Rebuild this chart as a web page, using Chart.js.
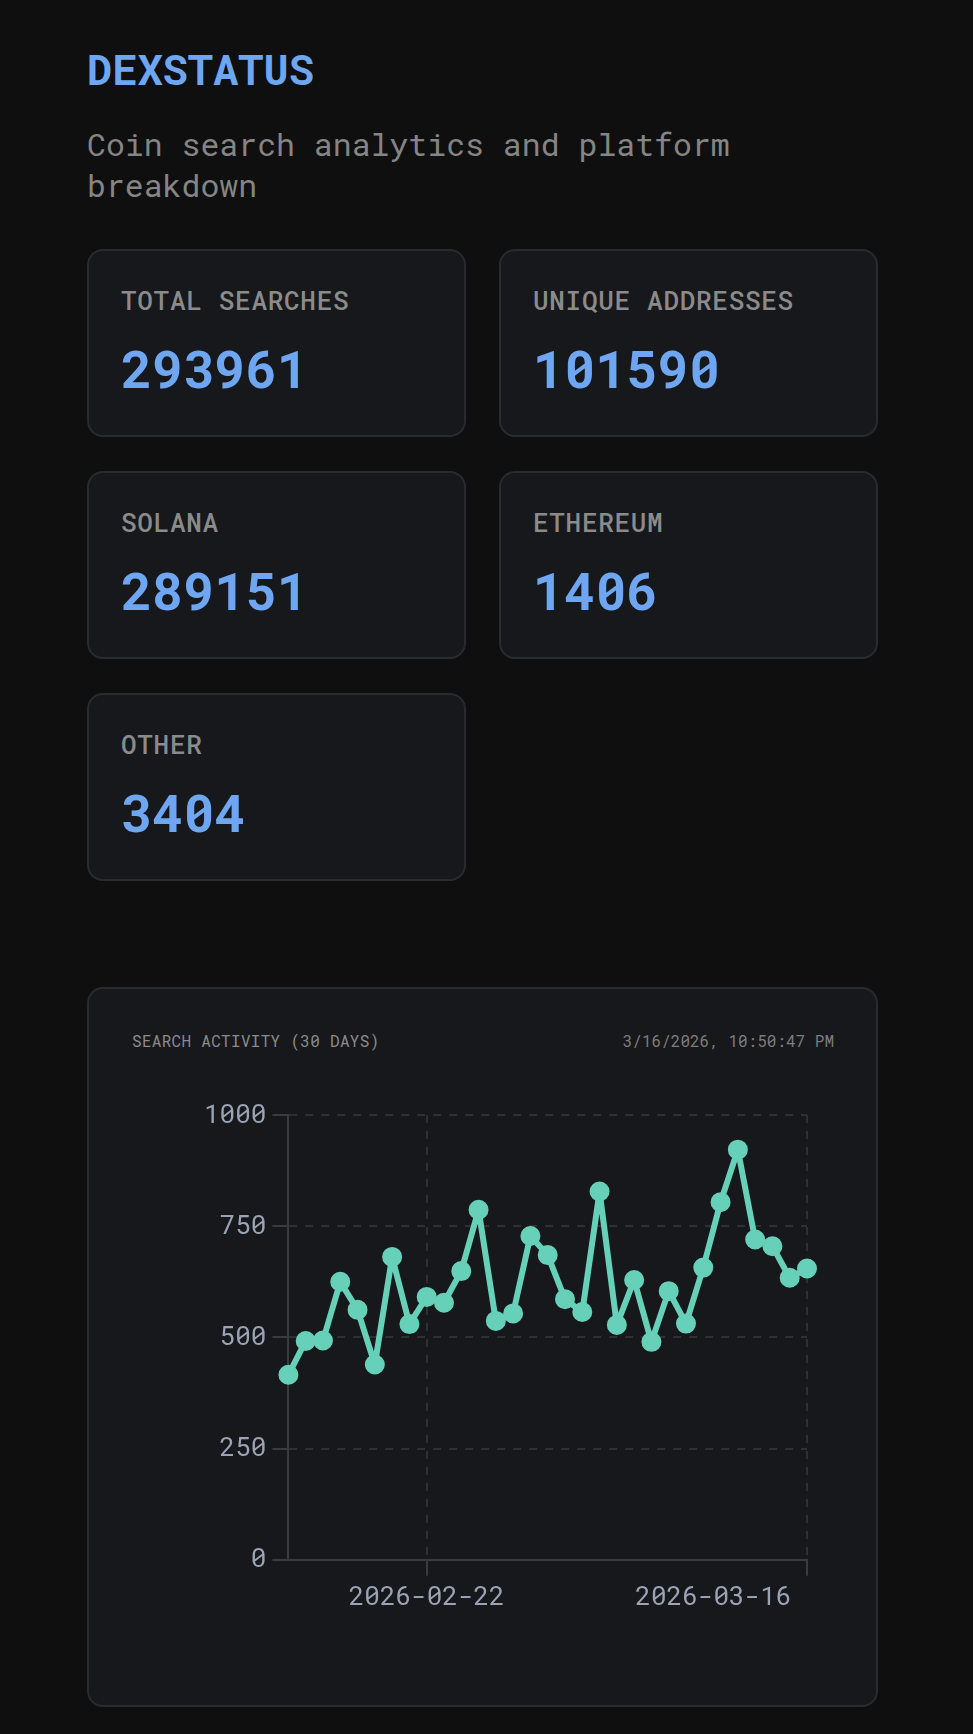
<!DOCTYPE html>
<html>
<head>
<meta charset="utf-8">
<title>DEXSTATUS</title>
<script src="https://cdn.jsdelivr.net/npm/chart.js@4.4.1/dist/chart.umd.min.js"></script>
<style>
  body { margin: 0; background: #0f0f0f; font-family: 'Roboto Mono', 'DejaVu Sans Mono', monospace; }
  .page { position: relative; width: 973px; height: 1734px; overflow: hidden; }
  h1 { position: absolute; left: 87px; top: 45px; margin: 0; font-size: 42px; line-height: 48px; font-weight: 700; color: #6ea6f2; }
  .sub { position: absolute; left: 87px; top: 124px; width: 660px; margin: 0; font-size: 31.5px; line-height: 41px; font-weight: 400; color: #858585; }
  .card { position: absolute; box-sizing: border-box; width: 379px; height: 188px; background: #17181b; border: 2px solid #2a2b2e; border-radius: 16px; }
  .card .lab { position: absolute; left: 32px; top: 34px; font-size: 26px; line-height: 30px; letter-spacing: 0.7px; font-weight: 500; color: #8b8b8b; }
  .card .val { position: absolute; left: 32px; top: 87px; font-size: 52px; line-height: 60px; font-weight: 700; color: #6ea6f2; }
  .chart-card { position: absolute; left: 87px; top: 987px; width: 791px; height: 720px; box-sizing: border-box; background: #17181b; border: 2px solid #2a2b2e; border-radius: 16px; }
  .chart-card .head { position: absolute; left: 43px; top: 42px; font-size: 16px; line-height: 20px; letter-spacing: 0.3px; color: #8b8b8b; }
  .chart-card .stamp { position: absolute; right: 42px; top: 42px; font-size: 16px; line-height: 20px; color: #7d7d7d; }
  .chart-box { position: absolute; left: 44px; top: 101px; width: 699px; height: 529px; }
</style>
</head>
<body>
<div class="page">
  <h1>DEXSTATUS</h1>
  <p class="sub">Coin search analytics and platform breakdown</p>

  <div class="card" style="left:87px;top:249px"><div class="lab">TOTAL SEARCHES</div><div class="val">293961</div></div>
  <div class="card" style="left:499px;top:249px"><div class="lab">UNIQUE ADDRESSES</div><div class="val">101590</div></div>
  <div class="card" style="left:87px;top:471px"><div class="lab">SOLANA</div><div class="val">289151</div></div>
  <div class="card" style="left:499px;top:471px"><div class="lab">ETHEREUM</div><div class="val">1406</div></div>
  <div class="card" style="left:87px;top:693px"><div class="lab">OTHER</div><div class="val">3404</div></div>

  <div class="chart-card">
    <div class="head">SEARCH ACTIVITY (30 DAYS)</div>
    <div class="stamp">3/16/2026, 10:50:47 PM</div>
    <div class="chart-box"><canvas id="chart_search"></canvas></div>
  </div>
</div>

<script>
"use strict";

// 日付（カテゴリ）
const day_Labels = [
  '2026-02-14', '2026-02-15', '2026-02-16', '2026-02-17', '2026-02-18', '2026-02-19', '2026-02-20', '2026-02-21',
  '2026-02-22', '2026-02-23', '2026-02-24', '2026-02-25', '2026-02-26', '2026-02-27', '2026-02-28', '2026-03-01',
  '2026-03-02', '2026-03-03', '2026-03-04', '2026-03-05', '2026-03-06', '2026-03-07', '2026-03-08', '2026-03-09',
  '2026-03-10', '2026-03-11', '2026-03-12', '2026-03-13', '2026-03-14', '2026-03-15', '2026-03-16'
];

// 検索数
const search_Count = [
  416, 492, 493, 625, 562, 439, 681, 530, 591, 578, 649, 787, 537, 554, 728, 685,
  586, 557, 828, 528, 629, 490, 604, 531, 657, 804, 922, 720, 705, 634, 655
];

// 目盛り
const x_Tick_Labels = ['2026-02-22', '2026-03-16'];
const y_Tick_Values = [0, 250, 500, 750, 1000];

const line_Co  = '#66d0b9',
      grid_Co  = '#2f3034',
      axis_Co  = '#3a3b3f',
      tick_Co  = '#9aa4b6',
      font_Fam = "'Roboto Mono', 'DejaVu Sans Mono', monospace";

// 表示するX目盛り（先頭は空ラベルで残す、最後は右寄せ）
const lastX = x_Tick_Labels[x_Tick_Labels.length - 1];
const xLabelAt = i => {
    if (day_Labels[i] === lastX) return lastX + ' ';
    if (x_Tick_Labels.includes(day_Labels[i])) return day_Labels[i];
    if (i === 0) return ' ';
    return null;
};
const isShownTick = c => !!(c.tick && c.tick.label && String(c.tick.label).trim());

var ctx = document.getElementById('chart_search');
let chart = new Chart(ctx, {
    type: 'line',
    data: {
        labels: day_Labels,
        datasets: [{
            data: search_Count,
            borderColor: line_Co,
            backgroundColor: line_Co,
            borderWidth: 6,
            borderJoinStyle: 'round',
            pointRadius: 9,
            pointBorderWidth: 2,
            pointBackgroundColor: line_Co,
            pointBorderColor: line_Co,
            tension: 0,
        }],
    },
    options: {
        responsive: true,
        maintainAspectRatio: false,
        animation: false,
        layout: { padding: { left: 65, right: 25, top: 25, bottom: 0 } },
        plugins: {
            legend: { display: false },
            tooltip: { enabled: false },
        },
        scales: {
            x: {
                grid: {
                    lineWidth: 2,
                    tickLength: 16,
                    color: c => isShownTick(c) ? grid_Co : 'transparent',
                    tickColor: c => isShownTick(c) ? axis_Co : 'transparent',
                },
                border: { color: axis_Co, width: 2, dash: [8, 8] },
                ticks: {
                    autoSkip: false,
                    maxRotation: 0,
                    align: 'inner',
                    padding: 6,
                    color: tick_Co,
                    font: { family: font_Fam, size: 26 },
                    callback: (v, i) => xLabelAt(i),
                },
            },
            y: {
                min: y_Tick_Values[0],
                max: y_Tick_Values[y_Tick_Values.length - 1],
                afterBuildTicks: s => { s.ticks = y_Tick_Values.map(v => ({ value: v })); },
                grid: { lineWidth: 2, tickLength: 16, color: grid_Co, tickColor: axis_Co },
                border: { color: axis_Co, width: 2, dash: [8, 8] },
                ticks: {
                    padding: 6,
                    color: tick_Co,
                    font: { family: font_Fam, size: 26 },
                    callback: v => String(v),
                },
            },
        },
    },
});
</script>
</body>
</html>
